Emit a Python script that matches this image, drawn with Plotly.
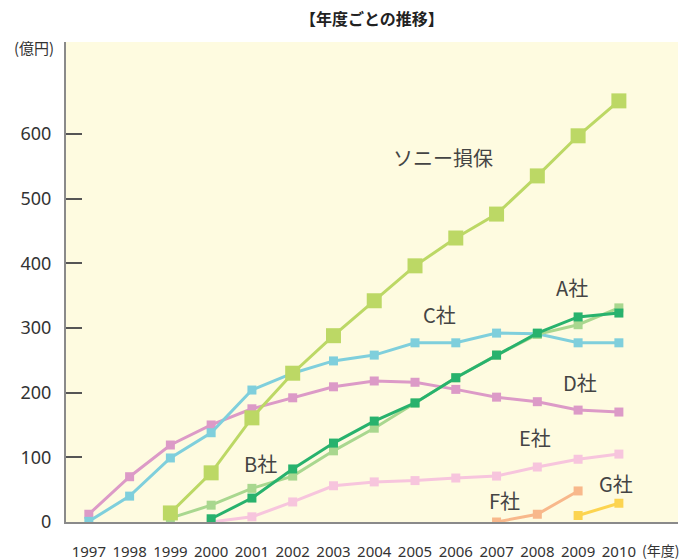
import plotly.graph_objects as go

years = list(range(1997, 2011))

sony_years = list(range(1999, 2011))
sony = [14, 76, 161, 230, 288, 342, 396, 439, 476, 535, 597, 651]

c_years = list(range(1997, 2011))
c_vals = [1, 40, 99, 138, 204, 230, 249, 258, 277, 277, 292, 291, 277, 277]

d_years = list(range(1997, 2011))
d_vals = [12, 70, 119, 150, 175, 192, 209, 218, 216, 205, 193, 186, 173, 170]

a_years = list(range(2000, 2011))
a_vals = [5, 37, 82, 122, 156, 184, 223, 258, 292, 317, 323]

b_years = list(range(1999, 2011))
b_vals = [6, 26, 52, 71, 110, 145, 184, 223, 258, 290, 305, 331]

e_years = list(range(2000, 2011))
e_vals = [0, 8, 31, 56, 62, 64, 68, 71, 85, 97, 105]

f_years = [2007, 2008, 2009]
f_vals = [0, 12, 48]

g_years = [2009, 2010]
g_vals = [10, 29]

labels = ["ソニー損保", "A社", "B社", "C社", "D社", "E社", "F社", "G社"]
label_x = [2005.68, 2008.85, 2001.2, 2005.6, 2009.04, 2007.94, 2007.2, 2009.93]
label_y = [564, 363, 90, 320, 216, 130, 34, 59]

y_ticks = [0, 100, 200, 300, 400, 500, 600]

series = [
    (e_years, e_vals, "#f7c5dd", 9),
    (f_years, f_vals, "#f8b88b", 9),
    (g_years, g_vals, "#fcd450", 9),
    (d_years, d_vals, "#dc9ac7", 9),
    (c_years, c_vals, "#7fcfdc", 9),
    (b_years, b_vals, "#a9d78f", 9),
    (a_years, a_vals, "#28b26d", 9),
    (sony_years, sony, "#bcd865", 15),
]

fig = go.Figure()
for xs, ys, col, ms in series:
    fig.add_trace(go.Scatter(
        x=xs, y=ys, mode="lines+markers",
        line=dict(color=col, width=3),
        marker=dict(symbol="square", size=ms, color=col),
        showlegend=False, hoverinfo="skip",
    ))

for t, lx, ly in zip(labels, label_x, label_y):
    fig.add_annotation(x=lx, y=ly, text=t, showarrow=False,
                       font=dict(size=20, color="#444444", family="Noto Sans CJK JP"))

fig.add_annotation(xref="paper", yref="paper", x=0.5, y=1.0, yshift=24,
                   xanchor="center", yanchor="middle",
                   text="<b>【年度ごとの推移】</b>", showarrow=False,
                   font=dict(size=16, color="#222222", family="Noto Sans CJK JP"))
fig.add_annotation(xref="paper", yref="paper", x=0, y=1.0, xshift=-32, yshift=-5,
                   xanchor="center", yanchor="middle",
                   text="(億円)", showarrow=False,
                   font=dict(size=15, color="#333333", family="Noto Sans CJK JP"))
fig.add_annotation(xref="x", yref="paper", x=2011.02, y=0, yshift=-28,
                   xanchor="center", yanchor="middle",
                   text="(年度)", showarrow=False,
                   font=dict(size=14, color="#333333", family="Noto Sans CJK JP"))

fig.update_layout(
    width=688, height=560,
    margin=dict(l=66, r=10, t=42, b=38),
    paper_bgcolor="white",
    plot_bgcolor="#fefbe0",
    font=dict(family="Noto Sans CJK JP", color="#333333"),
    xaxis=dict(
        range=[1996.44, 2011.45],
        tickvals=years, ticktext=[str(y) for y in years],
        showgrid=False, zeroline=False, automargin=False,
        showline=True, linecolor="#8a8a8a", linewidth=2,
        ticks="", ticklabelstandoff=15,
        tickfont=dict(size=15, color="#333333", family="Noto Sans"),
    ),
    yaxis=dict(
        range=[0, 742],
        tickvals=y_ticks,
        showgrid=False, zeroline=False, automargin=False,
        showline=True, linecolor="#8a8a8a", linewidth=2,
        ticks="inside", ticklen=16, tickwidth=1.5, tickcolor="#555555",
        ticklabelstandoff=9,
        tickfont=dict(size=18, color="#333333", family="Noto Sans"),
    ),
)

fig.write_html("out.html", config={"displayModeBar": False},
               post_script="document.body.style.margin='0px';document.body.style.overflow='hidden';")
